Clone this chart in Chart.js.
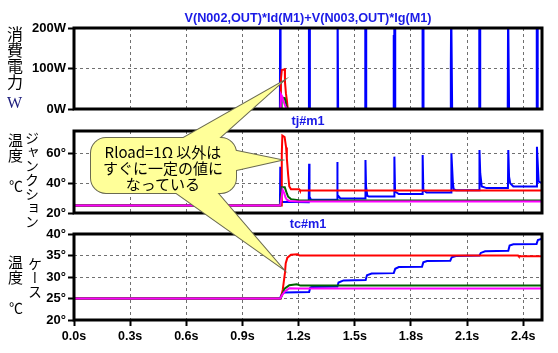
<!DOCTYPE html>
<html>
<head>
<meta charset="utf-8">
<script src="https://cdn.jsdelivr.net/npm/chart.js@4.4.1/dist/chart.umd.min.js"></script>
<style>
  html, body { margin: 0; padding: 0; background: #fff; }
  #wrap { position: relative; width: 558px; height: 353px; overflow: hidden; }
  #wrap canvas { position: absolute; left: 0; top: 0; }
  .vl { position: absolute; writing-mode: vertical-rl; text-orientation: upright; font-family: "Noto Sans CJK JP"; line-height: 1; color: #000; white-space: nowrap; }
  .hl { position: absolute; line-height: 1; white-space: nowrap; }
  #note { position: absolute; left: 92px; top: 144px; width: 142px; text-align: center; font: 15px/16px "Noto Sans CJK JP"; color: #000; }
</style>
</head>
<body>
<div id="wrap">
  <canvas id="c1" width="558" height="353"></canvas>
  <canvas id="c2" width="558" height="353"></canvas>
  <canvas id="c3" width="558" height="353"></canvas>
  <canvas id="callout" width="558" height="353"></canvas>

  <div class="vl" style="left:7px;top:26px;font-size:16px">消費電力</div>
  <div class="hl" style="left:7px;top:94px;font:16px 'Liberation Serif';color:#1c1c7c">W</div>

  <div class="vl" style="left:8px;top:133px;font-size:15px">温度</div>
  <div class="hl" style="left:9px;top:175px;font:14px 'Noto Sans CJK JP'">℃</div>
  <div class="vl" style="left:25px;top:131px;font-size:14px">ジャンクション</div>

  <div class="vl" style="left:8px;top:255px;font-size:15px">温度</div>
  <div class="hl" style="left:9px;top:297px;font:14px 'Noto Sans CJK JP'">℃</div>
  <div class="vl" style="left:28px;top:257px;font-size:14px">ケース</div>

  <div id="note">Rload=1Ω 以外は<br>すぐに一定の値に<br>なっている</div>
</div>

<script>
// axis ticks
const xTickVals = [0, 0.3, 0.6, 0.9, 1.2, 1.5, 1.8, 2.1, 2.4];
const powerTicks = [0, 100, 200];
const tjTicks = [20, 40, 60];
const tcTicks = [20, 25, 30, 35, 40];

// panel titles
const titles = ['V(N002,OUT)*Id(M1)+V(N003,OUT)*Ig(M1)', 'tj#m1', 'tc#m1'];

// consumed power [s, W]
const pwrBlue = [[0,0],[1.100,0],[1.101,260],[1.103,260],[1.104,0],
  [1.254,0],[1.255,260],[1.259,260],[1.260,0],
  [1.405,0],[1.406,260],[1.410,260],[1.411,0],
  [1.555,0],[1.556,260],[1.560,260],[1.561,0],
  [1.707,0],[1.708,180],[1.710,180],[1.711,260],[1.715,260],[1.716,0],
  [1.861,0],[1.862,260],[1.866,260],[1.867,0],
  [2.012,0],[2.013,108],[2.015,260],[2.019,260],[2.020,0],
  [2.164,0],[2.165,260],[2.169,260],[2.170,0],
  [2.316,0],[2.317,12],[2.319,260],[2.323,260],[2.324,0],
  [2.471,0],[2.472,260],[2.476,260],[2.477,0],[2.5,0]];
const pwrRed = [[0,0],[1.104,0],[1.105,72],[1.110,96],[1.126,98],[1.127,67],[1.132,39],[1.137,22],[1.142,0],[2.5,0]];
const pwrGreen = [[0,0],[1.106,0],[1.109,26],[1.112,28],[1.126,27],[1.133,12],[1.140,0],[2.5,0]];
const pwrMagenta = [[0,0],[1.104,0],[1.106,36],[1.112,31],[1.120,18],[1.130,6],[1.139,0],[2.5,0]];

// junction temperature [s, deg]
const tjBlue = [[0,25],[1.100,25],[1.102,51],[1.104,31],[1.109,27.5],[1.254,27.3],
  [1.256,53],[1.258,31],[1.266,29],[1.405,28.9],
  [1.406,50],[1.407,54.2],[1.409,32.2],[1.423,29.8],[1.556,29.8],
  [1.557,55.5],[1.560,37.8],[1.567,31.5],[1.575,31.1],[1.710,31.1],
  [1.711,46.9],[1.712,57.8],[1.715,34.4],[1.735,32.7],[1.861,32.7],
  [1.862,41],[1.863,58.9],[1.866,35.5],[1.883,33.8],[2.014,33.8],
  [2.016,60],[2.024,40],[2.028,36],[2.040,35.3],[2.164,35.3],
  [2.166,62.2],[2.170,46.7],[2.178,37.8],[2.204,36.7],[2.318,36.7],
  [2.320,62.2],[2.324,44.4],[2.330,40],[2.347,37.8],[2.471,37.8],
  [2.473,64.4],[2.482,41.1],[2.5,40]];
const tjRed = [[0,25],[1.107,25],[1.110,60],[1.113,72],[1.125,71],[1.133,64],[1.137,56.6],[1.144,45.5],[1.150,37.8],[1.159,36],[1.203,36],[1.207,35.1],[2.5,35.1]];
const tjGreen = [[0,25],[1.103,25],[1.106,33],[1.110,37.2],[1.126,37.2],[1.137,33.1],[1.144,30.9],[1.159,29.3],[1.2,28.6],[2.5,28.4]];
const tjMagenta = [[0,25],[1.102,25],[1.108,30],[1.114,35.5],[1.123,33.3],[1.130,30.4],[1.137,28.9],[1.150,28.1],[1.2,27.7],[2.5,27.7]];

// case temperature [s, deg]
const tcBlue = [[0,25],[1.100,25],[1.112,26.2],[1.125,26.4],[1.256,26.5],[1.262,27.5],[1.27,27.7],
  [1.407,27.8],[1.413,28.7],[1.44,29.2],[1.558,29.3],[1.565,30.4],[1.59,30.8],
  [1.708,30.9],[1.716,31.9],[1.735,32.3],[1.859,32.4],[1.866,33.4],[1.886,33.7],
  [2.010,33.8],[2.018,34.6],[2.04,34.9],[2.166,35.0],[2.173,35.6],[2.196,36.0],
  [2.320,36.1],[2.327,37.3],[2.347,37.6],[2.471,37.7],[2.478,38.6],[2.5,38.9]];
const tcRed = [[0,25],[1.104,25],[1.115,27],[1.127,31],[1.131,33.2],[1.140,34.5],[1.159,35.2],[1.194,35.3],[1.205,35.0],[2.372,35.0],[2.376,34.8],[2.5,34.8]];
const tcGreen = [[0,25],[1.104,25],[1.115,26.2],[1.125,27.3],[1.150,28.1],[1.19,28.3],[1.21,28.0],[2.5,28.0]];
const tcMagenta = [[0,25],[1.102,25],[1.112,25.8],[1.125,26.6],[1.150,27.4],[1.2,27.3],[2.5,27.3]];

Chart.defaults.font.family = '"Liberation Sans", Arial, sans-serif';

// plot frame + blue title above each panel
const frame = {
  id: 'frame',
  afterDraw(chart, args, o) {
    const { ctx, chartArea: a } = chart;
    ctx.save();
    ctx.strokeStyle = '#000';
    ctx.lineWidth = 3;
    ctx.strokeRect(a.left, a.top, a.right - a.left, a.bottom - a.top);
    ctx.fillStyle = '#1a1ae6';
    ctx.font = 'bold 12.7px "Liberation Sans"';
    ctx.textAlign = 'center';
    ctx.textBaseline = 'alphabetic';
    ctx.fillText(o.text, (a.left + a.right) / 2, a.top - 6.5);
    ctx.restore();
  }
};

function line(data, color) {
  return { data, borderColor: color, borderWidth: 2, pointRadius: 0, tension: 0, fill: false };
}

function makePanel(id, sets, yMin, yMax, yTicks, unit, title, pad, showX) {
  new Chart(document.getElementById(id), {
    type: 'line',
    data: {
      // first dataset is drawn on top
      datasets: [line(sets[3], '#ff00ff'), line(sets[2], '#006400'), line(sets[1], '#ff0000'), line(sets[0], '#0000ff')]
    },
    plugins: [frame],
    options: {
      responsive: false,
      animation: false,
      devicePixelRatio: 1,
      layout: { padding: pad },
      plugins: { legend: { display: false }, tooltip: { enabled: false }, frame: { text: title } },
      scales: {
        x: {
          type: 'linear', min: 0, max: 2.5,
          afterBuildTicks: s => { s.ticks = xTickVals.map(v => ({ value: v })); },
          afterFit: s => { s.height = showX ? 30 : 2; },
          border: { display: false, dash: [3, 3] },
          grid: { color: '#707070', lineWidth: 1, drawTicks: showX, tickLength: 6, tickColor: '#000', tickWidth: 2, tickBorderDash: [] },
          ticks: {
            display: showX, padding: 3, color: '#000',
            font: { size: 12.5, weight: 'bold' },
            callback: v => v.toFixed(1) + 's'
          }
        },
        y: {
          type: 'linear', min: yMin, max: yMax,
          afterBuildTicks: s => { s.ticks = yTicks.map(v => ({ value: v })); },
          afterFit: s => { s.width = 74; },
          border: { display: false, dash: [3, 3] },
          grid: { color: '#707070', lineWidth: 1, drawTicks: true, tickLength: 6, tickColor: '#000', tickWidth: 2, tickBorderDash: [] },
          ticks: {
            padding: 2, color: '#000',
            font: { size: 13, weight: 'bold' },
            callback: v => v + unit
          }
        }
      }
    }
  });
}

makePanel('c1', [pwrBlue, pwrRed, pwrGreen, pwrMagenta], 0, 200, powerTicks, 'W', titles[0],
  { top: 28, right: 16, bottom: 242, left: 0 }, false);
makePanel('c2', [tjBlue, tjRed, tjGreen, tjMagenta], 20, 75, tjTicks, '°', titles[1],
  { top: 131, right: 16, bottom: 138, left: 0 }, false);
makePanel('c3', [tcBlue, tcRed, tcGreen, tcMagenta], 20, 40, tcTicks, '°', titles[2],
  { top: 234, right: 16, bottom: 3, left: 0 }, true);

// speech balloon pointing at the three transients
const cc = document.getElementById('callout').getContext('2d');
const tails = [
  [[178, 141], [216, 141], [282, 82]],
  [[232, 150], [232, 171], [281, 160]],
  [[172, 190], [215, 190], [282, 268]]
];
function boxPath(x, y, w, h, r) {
  cc.beginPath();
  cc.moveTo(x + r, y);
  cc.arcTo(x + w, y, x + w, y + h, r);
  cc.arcTo(x + w, y + h, x, y + h, r);
  cc.arcTo(x, y + h, x, y, r);
  cc.arcTo(x, y, x + w, y, r);
  cc.closePath();
}
function tailPath(t) {
  cc.beginPath();
  cc.moveTo(t[0][0], t[0][1]);
  cc.lineTo(t[1][0], t[1][1]);
  cc.lineTo(t[2][0], t[2][1]);
  cc.closePath();
}
cc.lineWidth = 2;
cc.strokeStyle = '#6a6a50';
boxPath(91, 138, 145, 55, 15); cc.stroke();
tails.forEach(t => { tailPath(t); cc.stroke(); });
cc.fillStyle = '#ffff99';
boxPath(91, 138, 145, 55, 15); cc.fill();
tails.forEach(t => { tailPath(t); cc.fill(); });
</script>
</body>
</html>
